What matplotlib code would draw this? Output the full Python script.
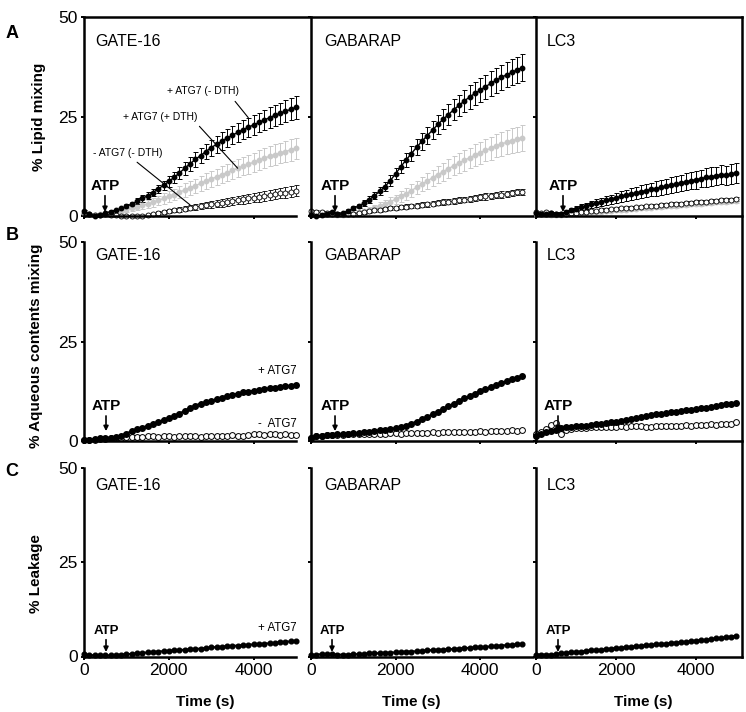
import numpy as np
import matplotlib
matplotlib.use("Agg")
import matplotlib.pyplot as plt
from matplotlib.lines import Line2D

plt.rcParams['font.family'] = ['Liberation Sans', 'DejaVu Sans']

W, H = 746, 712

# time grid (s), one reading every 125 s
t = np.arange(0, 5001, 125)

# ---- A: lipid mixing ----
gate_a_black = [1.2, 0.5, 0.1, 0.3, 0.8, 1.1, 1.4, 1.9, 2.4, 3.0,
                3.7, 4.4, 5.1, 5.9, 6.8, 7.7, 8.7, 9.7, 10.8, 12.0,
                13.1, 14.2, 15.2, 16.2, 17.2, 18.0, 18.8, 19.6, 20.3, 21.0,
                21.7, 22.3, 22.9, 23.5, 24.1, 24.7, 25.3, 25.8, 26.3, 26.8,
                27.3]
gate_a_black_err = [0.3, 0.3, 0.3, 0.3, 0.3, 0.3, 0.3, 0.4, 0.5, 0.6,
                    0.7, 0.8, 0.9, 1.0, 1.1, 1.2, 1.3, 1.4, 1.5, 1.6,
                    1.7, 1.8, 1.9, 2.0, 2.0, 2.1, 2.2, 2.2, 2.3, 2.3,
                    2.4, 2.4, 2.5, 2.5, 2.6, 2.6, 2.7, 2.7, 2.8, 2.8,
                    2.9]
gate_a_gray = [0.8, 0.5, 0.3, 0.4, 0.5, 0.6, 0.8, 1.1, 1.5, 1.9,
               2.3, 2.7, 3.0, 3.4, 3.9, 4.4, 4.9, 5.4, 6.0, 6.5,
               7.1, 7.6, 8.2, 8.7, 9.3, 9.8, 10.4, 10.9, 11.5, 12.0,
               12.5, 13.0, 13.5, 14.0, 14.5, 15.0, 15.4, 15.8, 16.2, 16.6,
               17.0]
gate_a_gray_err = [0.3, 0.3, 0.3, 0.3, 0.3, 0.3, 0.4, 0.5, 0.6, 0.7,
                   0.8, 0.9, 1.0, 1.1, 1.2, 1.3, 1.4, 1.5, 1.6, 1.7,
                   1.8, 1.8, 1.9, 2.0, 2.0, 2.1, 2.1, 2.2, 2.2, 2.3,
                   2.3, 2.4, 2.4, 2.5, 2.5, 2.5, 2.6, 2.6, 2.6, 2.7,
                   2.7]
gate_a_open = [0.5, 0.4, 0.3, 0.3, 0.4, 0.3, 0.2, 0.1, 0.1, 0.1,
               0.1, 0.1, 0.3, 0.5, 0.8, 1.0, 1.2, 1.4, 1.6, 1.8,
               2.1, 2.3, 2.5, 2.7, 2.9, 3.1, 3.3, 3.5, 3.8, 4.0,
               4.2, 4.4, 4.6, 4.8, 5.0, 5.3, 5.5, 5.7, 5.9, 6.1,
               6.3]
gate_a_open_err = [0.2, 0.2, 0.2, 0.2, 0.2, 0.2, 0.2, 0.2, 0.2, 0.2,
                   0.2, 0.2, 0.3, 0.3, 0.4, 0.4, 0.5, 0.5, 0.6, 0.6,
                   0.7, 0.7, 0.8, 0.8, 0.9, 0.9, 1.0, 1.0, 1.0, 1.1,
                   1.1, 1.1, 1.2, 1.2, 1.2, 1.3, 1.3, 1.3, 1.4, 1.4,
                   1.4]

gab_a_black = [0.3, 0.0, 0.2, 0.5, 0.9, 0.6, 0.8, 1.3, 1.9, 2.5,
               3.2, 4.1, 5.1, 6.2, 7.4, 8.9, 10.6, 12.4, 14.1, 15.7,
               17.3, 18.8, 20.2, 21.6, 23.0, 24.3, 25.5, 26.7, 27.8, 28.9,
               29.9, 30.8, 31.6, 32.5, 33.3, 34.1, 34.8, 35.5, 36.1, 36.7,
               37.3]
gab_a_black_err = [0.3, 0.3, 0.3, 0.3, 0.3, 0.3, 0.3, 0.4, 0.5, 0.6,
                   0.7, 0.8, 0.9, 1.0, 1.1, 1.3, 1.4, 1.6, 1.7, 1.9,
                   2.0, 2.1, 2.2, 2.3, 2.4, 2.5, 2.6, 2.7, 2.7, 2.8,
                   2.9, 2.9, 3.0, 3.0, 3.1, 3.1, 3.2, 3.2, 3.3, 3.3,
                   3.4]
gab_a_gray = [0.8, 0.7, 0.5, 0.5, 0.4, 0.2, 0.3, 0.4, 0.6, 0.9,
              1.2, 1.6, 2.0, 2.5, 3.0, 3.6, 4.2, 4.9, 5.6, 6.4,
              7.2, 8.0, 8.8, 9.6, 10.4, 11.1, 11.9, 12.6, 13.3, 14.0,
              14.6, 15.3, 15.9, 16.5, 17.0, 17.6, 18.1, 18.5, 18.9, 19.3,
              19.6]
gab_a_gray_err = [0.3, 0.3, 0.3, 0.3, 0.3, 0.3, 0.3, 0.3, 0.4, 0.5,
                  0.6, 0.7, 0.8, 0.9, 1.0, 1.1, 1.2, 1.4, 1.5, 1.6,
                  1.7, 1.8, 1.9, 2.0, 2.1, 2.2, 2.3, 2.4, 2.5, 2.6,
                  2.6, 2.7, 2.8, 2.8, 2.9, 2.9, 3.0, 3.0, 3.1, 3.1,
                  3.2]
gab_a_open = [1.2, 1.0, 0.9, 0.8, 0.6, 0.4, 0.4, 0.5, 0.6, 0.8,
              1.0, 1.2, 1.4, 1.6, 1.8, 1.9, 2.0, 2.2, 2.3, 2.5,
              2.6, 2.8, 2.9, 3.1, 3.3, 3.5, 3.6, 3.8, 4.0, 4.1,
              4.3, 4.5, 4.7, 4.9, 5.0, 5.2, 5.4, 5.6, 5.8, 6.0,
              6.1]
gab_a_open_err = [0.4, 0.4, 0.4, 0.4, 0.4, 0.4, 0.4, 0.4, 0.4, 0.4,
                  0.5, 0.5, 0.5, 0.5, 0.5, 0.5, 0.5, 0.5, 0.6, 0.6,
                  0.6, 0.6, 0.6, 0.6, 0.6, 0.7, 0.7, 0.7, 0.7, 0.7,
                  0.7, 0.7, 0.8, 0.8, 0.8, 0.8, 0.8, 0.8, 0.8, 0.8,
                  0.8]

lc3_a_black = [0.8, 0.5, 0.6, 0.7, 0.6, 0.6, 1.0, 1.4, 1.8, 2.2,
               2.5, 2.9, 3.2, 3.5, 3.9, 4.2, 4.6, 4.9, 5.2, 5.5,
               5.8, 6.1, 6.4, 6.7, 6.9, 7.2, 7.5, 7.8, 8.0, 8.3,
               8.6, 8.9, 9.1, 9.4, 9.7, 9.9, 10.1, 10.4, 10.2, 10.6,
               10.8]
lc3_a_black_err = [0.3, 0.3, 0.3, 0.3, 0.3, 0.3, 0.4, 0.5, 0.6, 0.7,
                   0.8, 0.9, 1.0, 1.0, 1.1, 1.2, 1.3, 1.3, 1.4, 1.5,
                   1.5, 1.6, 1.7, 1.7, 1.8, 1.8, 1.9, 1.9, 2.0, 2.0,
                   2.1, 2.1, 2.2, 2.2, 2.3, 2.3, 2.3, 2.4, 2.4, 2.5,
                   2.5]
lc3_a_gray = [0.5, 0.4, 0.4, 0.3, 0.3, 0.3, 0.4, 0.5, 0.6, 0.7,
              0.8, 0.9, 1.0, 1.1, 1.2, 1.3, 1.4, 1.5, 1.6, 1.7,
              1.8, 1.9, 2.0, 2.1, 2.2, 2.3, 2.4, 2.5, 2.6, 2.7,
              2.8, 2.9, 3.0, 3.1, 3.2, 3.3, 3.4, 3.5, 3.6, 3.7,
              3.8]
lc3_a_open = [1.0, 0.8, 0.9, 0.7, 0.6, 0.4, 0.5, 0.7, 0.8, 1.0,
              1.1, 1.2, 1.3, 1.5, 1.6, 1.7, 1.8, 1.9, 2.0, 2.1,
              2.2, 2.3, 2.4, 2.5, 2.6, 2.7, 2.8, 2.9, 3.0, 3.1,
              3.2, 3.3, 3.4, 3.5, 3.6, 3.7, 3.8, 3.9, 4.0, 4.1,
              4.2]
lc3_a_small_err = [0.3, 0.3, 0.3, 0.3, 0.3, 0.3, 0.3, 0.3, 0.3, 0.3,
                   0.3, 0.3, 0.3, 0.4, 0.4, 0.4, 0.4, 0.4, 0.4, 0.4,
                   0.4, 0.4, 0.4, 0.4, 0.5, 0.5, 0.5, 0.5, 0.5, 0.5,
                   0.5, 0.5, 0.5, 0.5, 0.5, 0.5, 0.5, 0.5, 0.5, 0.5,
                   0.5]

# ---- B: aqueous contents mixing ----
gate_b_black = [0.3, 0.5, 0.6, 0.8, 0.9, 1.0, 1.1, 1.4, 2.0, 2.6,
                3.1, 3.5, 3.9, 4.4, 4.9, 5.4, 5.9, 6.4, 7.0, 7.7,
                8.4, 9.0, 9.5, 9.8, 10.2, 10.6, 11.0, 11.4, 11.7, 12.0,
                12.3, 12.5, 12.7, 12.9, 13.1, 13.3, 13.5, 13.7, 13.9, 14.0,
                14.1]
gate_b_open = [0.3, 0.4, 0.5, 0.6, 0.7, 0.8, 0.9, 1.0, 1.1, 1.2,
               1.2, 1.2, 1.3, 1.3, 1.2, 1.3, 1.3, 1.2, 1.3, 1.3,
               1.3, 1.3, 1.2, 1.3, 1.4, 1.4, 1.3, 1.5, 1.6, 1.4,
               1.5, 1.6, 1.8, 1.9, 1.7, 2.0, 1.9, 1.6, 1.8, 1.7,
               1.6]
gab_b_black = [0.9, 1.3, 1.5, 1.6, 1.7, 1.8, 1.9, 2.0, 2.1, 2.2,
               2.4, 2.5, 2.6, 2.8, 2.9, 3.1, 3.3, 3.6, 4.0, 4.5,
               5.0, 5.6, 6.2, 6.8, 7.5, 8.1, 8.8, 9.5, 10.1, 10.8,
               11.4, 12.0, 12.6, 13.1, 13.7, 14.2, 14.7, 15.1, 15.6, 16.0,
               16.4]
gab_b_open = [1.0, 1.3, 1.5, 1.6, 1.6, 1.7, 1.7, 1.8, 1.8, 1.9,
              1.9, 1.9, 2.0, 2.0, 2.0, 2.1, 2.1, 2.0, 2.1, 2.2,
              2.1, 2.2, 2.2, 2.3, 2.2, 2.3, 2.4, 2.3, 2.4, 2.5,
              2.4, 2.5, 2.6, 2.5, 2.6, 2.7, 2.6, 2.7, 2.8, 2.7,
              2.8]
lc3_b_black = [1.5, 1.9, 2.3, 2.6, 3.0, 3.4, 3.6, 3.7, 3.8, 3.9,
               4.0, 4.1, 4.3, 4.4, 4.6, 4.8, 5.0, 5.2, 5.5, 5.7,
               5.9, 6.1, 6.4, 6.6, 6.8, 7.0, 7.1, 7.3, 7.4, 7.6,
               7.8, 8.0, 8.1, 8.3, 8.5, 8.7, 8.9, 9.1, 9.3, 9.5,
               9.6]
lc3_b_open = [1.8, 2.5, 3.2, 4.2, 4.6, 1.9, 2.8, 3.1, 3.3, 3.4,
              3.5, 3.6, 3.6, 3.7, 3.7, 3.6, 3.7, 3.8, 3.7, 3.8,
              3.9, 3.8, 3.6, 3.7, 3.8, 3.9, 3.8, 3.9, 4.0, 4.0,
              4.1, 4.0, 4.2, 4.1, 4.2, 4.3, 4.2, 4.3, 4.4, 4.5,
              4.8]

# ---- C: leakage ----
gate_c = [0.6, 0.4, 0.3, 0.3, 0.3, 0.3, 0.4, 0.5, 0.6, 0.7,
          0.8, 0.9, 1.1, 1.2, 1.3, 1.4, 1.5, 1.6, 1.7, 1.8,
          1.9, 2.0, 2.1, 2.2, 2.4, 2.5, 2.6, 2.7, 2.8, 2.9,
          3.0, 3.1, 3.2, 3.3, 3.4, 3.5, 3.6, 3.8, 3.9, 4.0,
          4.2]
gab_c = [0.4, 0.5, 0.6, 0.6, 0.6, 0.5, 0.5, 0.5, 0.6, 0.6,
         0.7, 0.8, 0.8, 0.9, 1.0, 1.0, 1.1, 1.2, 1.3, 1.3,
         1.4, 1.5, 1.6, 1.7, 1.8, 1.8, 1.9, 2.0, 2.1, 2.2,
         2.3, 2.4, 2.4, 2.5, 2.7, 2.8, 2.9, 3.0, 3.1, 3.2,
         3.3]
lc3_c = [0.5, 0.5, 0.5, 0.5, 0.6, 0.8, 1.0, 1.1, 1.2, 1.3,
         1.5, 1.6, 1.7, 1.8, 1.9, 2.1, 2.2, 2.3, 2.5, 2.6,
         2.7, 2.8, 3.0, 3.1, 3.2, 3.3, 3.4, 3.6, 3.7, 3.8,
         3.9, 4.1, 4.2, 4.3, 4.4, 4.6, 4.8, 4.9, 5.1, 5.3,
         5.5]

proteins = ["GATE-16", "GABARAP", "LC3"]
atp_time = [[495, 568, 675], [519, 568, 550], [519, 497, 550]]

gray = '#c9c9c9'

fig = plt.figure(figsize=(7.46, 7.12), dpi=100)

# columns: left px, width px, x max ; rows: top px, bottom px
col_px = [(84, 212, 5000), (311, 222, 5250), (536, 206, 5150)]
row_px = [(17, 216), (242, 441.5), (468, 656.5)]


def fig_text(px, py, s, **kw):
    return fig.text(px / W, 1 - py / H, s, **kw)


axes = []
for r, (ytop, ybot) in enumerate(row_px):
    row = []
    for c, (x0, w, xmax) in enumerate(col_px):
        ax = fig.add_axes([x0 / W, 1 - ybot / H, w / W, (ybot - ytop) / H])
        ax.set_xlim(0, xmax)
        ax.set_ylim(0, 50)
        ax.spines['top'].set_visible(False)
        ax.spines['right'].set_visible(False)
        ax.spines['left'].set_linewidth(1.8)
        ax.spines['bottom'].set_linewidth(1.8)
        ax.set_xticks([0, 2000, 4000])
        ax.set_yticks([0, 25, 50])
        ax.tick_params(direction='out', length=2.5, width=1.4, labelsize=12.5, pad=2)
        if r < 2:
            ax.tick_params(labelbottom=False)
        if c > 0:
            ax.tick_params(labelleft=False)
        row.append(ax)
    axes.append(row)


def no_clip(container):
    for a in container.get_children():
        a.set_clip_on(False)


def lipid(ax, black, black_err, grey, grey_err, opn, opn_err):
    eb = ax.errorbar(t, grey, yerr=grey_err, fmt='o-', color=gray, ms=3.2, lw=1,
                     elinewidth=0.7, capsize=1.8, capthick=0.7)
    no_clip(eb)
    eb = ax.errorbar(t, opn, yerr=opn_err, fmt='o-', color='black', mfc='white',
                     mec='black', mew=0.6, ms=3.6, lw=0.6, elinewidth=0.6,
                     capsize=1.8, capthick=0.6)
    no_clip(eb)
    eb = ax.errorbar(t, black, yerr=black_err, fmt='o-', color='black', ms=3.2, lw=1,
                     elinewidth=0.7, capsize=1.8, capthick=0.7)
    no_clip(eb)


lipid(axes[0][0], gate_a_black, gate_a_black_err, gate_a_gray, gate_a_gray_err,
      gate_a_open, gate_a_open_err)
lipid(axes[0][1], gab_a_black, gab_a_black_err, gab_a_gray, gab_a_gray_err,
      gab_a_open, gab_a_open_err)
lipid(axes[0][2], lc3_a_black, lc3_a_black_err, lc3_a_gray, lc3_a_small_err,
      lc3_a_open, lc3_a_small_err)

for ax, blk, opn in zip(axes[1], [gate_b_black, gab_b_black, lc3_b_black],
                        [gate_b_open, gab_b_open, lc3_b_open]):
    ax.plot(t, opn, 'o-', color='black', mfc='white', mec='black', mew=0.7,
            ms=4.2, lw=0.5, clip_on=False)
    ax.plot(t, blk, 'o-', color='black', ms=4.0, lw=1.5, clip_on=False)

for ax, blk in zip(axes[2], [gate_c, gab_c, lc3_c]):
    ax.plot(t, blk, 'o-', color='black', ms=3.4, lw=1.5, clip_on=False)

# ATP arrows
atp_y = [(5.8, 1.0), (7.1, 2.6), (5.2, 1.2)]
atp_size = [11, 11, 9.5]
for r in range(3):
    for c in range(3):
        ta = atp_time[r][c]
        ytext, ytip = atp_y[r]
        axes[r][c].annotate('ATP', xy=(ta, ytip), xytext=(ta, ytext), ha='center',
                            va='bottom', fontsize=atp_size[r], fontweight='bold',
                            arrowprops=dict(arrowstyle='-|>', color='black', lw=1.2,
                                            mutation_scale=7, shrinkA=0, shrinkB=0))

# curve labels
ax = axes[0][0]
ax.annotate('+ ATG7 (- DTH)', xy=(t[31], gate_a_black[31] + gate_a_black_err[31]),
            xytext=(2807, 31.3), fontsize=7.5, ha='center', va='center',
            arrowprops=dict(arrowstyle='-', lw=0.8, color='black', relpos=(0.89, 0),
                            shrinkA=2, shrinkB=0))
ax.annotate('+ ATG7 (+ DTH)', xy=(t[29], gate_a_gray[29]),
            xytext=(1792, 25.0), fontsize=7.5, ha='center', va='center',
            arrowprops=dict(arrowstyle='-', lw=0.8, color='black', relpos=(0.97, 0),
                            shrinkA=2, shrinkB=0))
ax.annotate('- ATG7 (- DTH)', xy=(t[20], gate_a_open[20] + gate_a_open_err[20]),
            xytext=(1038, 15.9), fontsize=7.5, ha='center', va='center',
            arrowprops=dict(arrowstyle='-', lw=0.8, color='black', relpos=(0.55, 0),
                            shrinkA=2, shrinkB=0))

axes[1][0].text(5020, 17.7, '+ ATG7', fontsize=8.3, ha='right', va='center')
axes[1][0].text(5020, 4.4, '-  ATG7', fontsize=8.3, ha='right', va='center')
axes[2][0].text(5020, 7.6, '+ ATG7', fontsize=8.3, ha='right', va='center')

# protein names
title_x = [95, 324, 547]
title_y = [42, 255, 485]
for r in range(3):
    for c in range(3):
        fig_text(title_x[c], title_y[r], proteins[c], fontsize=11.5, ha='left', va='center')

# axis titles
fig_text(39, 117, '% Lipid mixing', fontsize=11, fontweight='bold', rotation=90,
         ha='center', va='center')
fig_text(36, 346, '% Aqueous contents mixing', fontsize=11, fontweight='bold',
         rotation=90, ha='center', va='center')
fig_text(36, 574, '% Leakage', fontsize=11, fontweight='bold', rotation=90,
         ha='center', va='center')
for xc in [205, 411, 643]:
    fig_text(xc, 702, 'Time (s)', fontsize=11, fontweight='bold', ha='center', va='center')

# panel letters
fig_text(12, 34, 'A', fontsize=13, fontweight='bold', ha='center', va='center')
fig_text(12, 236, 'B', fontsize=13, fontweight='bold', ha='center', va='center')
fig_text(12, 472, 'C', fontsize=13, fontweight='bold', ha='center', va='center')

# outer frame (top and right)
fig.add_artist(Line2D([84 / W, 742 / W], [1 - 17 / H, 1 - 17 / H], color='black',
                      lw=1.8, transform=fig.transFigure))
fig.add_artist(Line2D([742 / W, 742 / W], [1 - 17 / H, 1 - 657 / H], color='black',
                      lw=1.8, transform=fig.transFigure))

fig.savefig('out.png', dpi=100)
